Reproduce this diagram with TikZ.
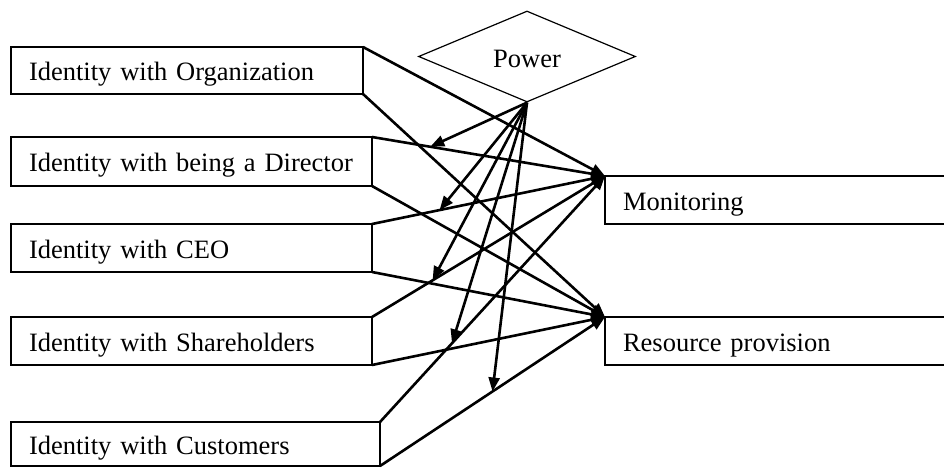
\documentclass[tikz,border=0pt]{standalone}
\usepackage{fontspec}
\setmainfont{Liberation Serif}
\usetikzlibrary{arrows.meta,shapes.geometric}

\begin{document}
\begin{tikzpicture}[
  x=1pt, y=-1pt,
  box/.style={draw, line width=1.6pt, anchor=north west, outer sep=0pt, inner xsep=18pt, inner ysep=0pt,
    minimum height=48pt, text width=#1, text height=24pt, text depth=4pt, align=left,
    font=\fontsize{26.5}{32}\selectfont},
  power/.style={draw, diamond, line width=1.2pt, minimum width=217pt, minimum height=91pt, inner sep=0pt,
    text height=22pt, text depth=0pt, font=\fontsize{26.5}{32}\selectfont},
  link/.style={line width=2.6pt, -{Triangle[length=14pt,width=11pt]}}
]
\useasboundingbox (0,0) rectangle (944,468);
\clip (0,0) rectangle (944,468);

% identities on the left
\node[box=316pt, minimum height=47pt] (org) at (11,47) {Identity with Organization};
\node[box=325pt, minimum height=49pt] (dir) at (11,137) {Identity with being a Director};
\node[box=325pt] (ceo) at (11,224) {Identity with CEO};
\node[box=325pt] (share) at (11,317) {Identity with Shareholders};
\node[box=333pt, minimum height=44pt] (cust) at (11,422) {Identity with Customers};

% outcomes on the right
\node[box=324pt] (mon) at (605,176) {Monitoring};
\node[box=324pt] (res) at (605,317) {Resource provision};

\node[power] (pow) at (527,56.5) {Power};

% direct paths
\draw[link] (org.north east) -- (mon.north west);
\draw[link] (org.south east) -- (res.north west);
\draw[link] (dir.north east) -- (mon.north west) coordinate[pos=0.25] (m1);
\draw[link] (dir.south east) -- (res.north west);
\draw[link] (ceo.north east) -- (mon.north west) coordinate[pos=0.29] (m2);
\draw[link] (ceo.south east) -- (res.north west);
\draw[link] (share.north east) -- (mon.north west) coordinate[pos=0.26] (m3);
\draw[link] (share.south east) -- (res.north west);
\draw[link] (cust.north east) -- (mon.north west) coordinate[pos=0.32] (m4);
\draw[link] (cust.south east) -- (res.north west) coordinate[pos=0.5] (m5);

% moderating arrows
\draw[link] (pow.south) -- (m1);
\draw[link] (pow.south) -- (m2);
\draw[link] (pow.south) -- (m3);
\draw[link] (pow.south) -- (m4);
\draw[link] (pow.south) -- (m5);
\end{tikzpicture}
\end{document}
